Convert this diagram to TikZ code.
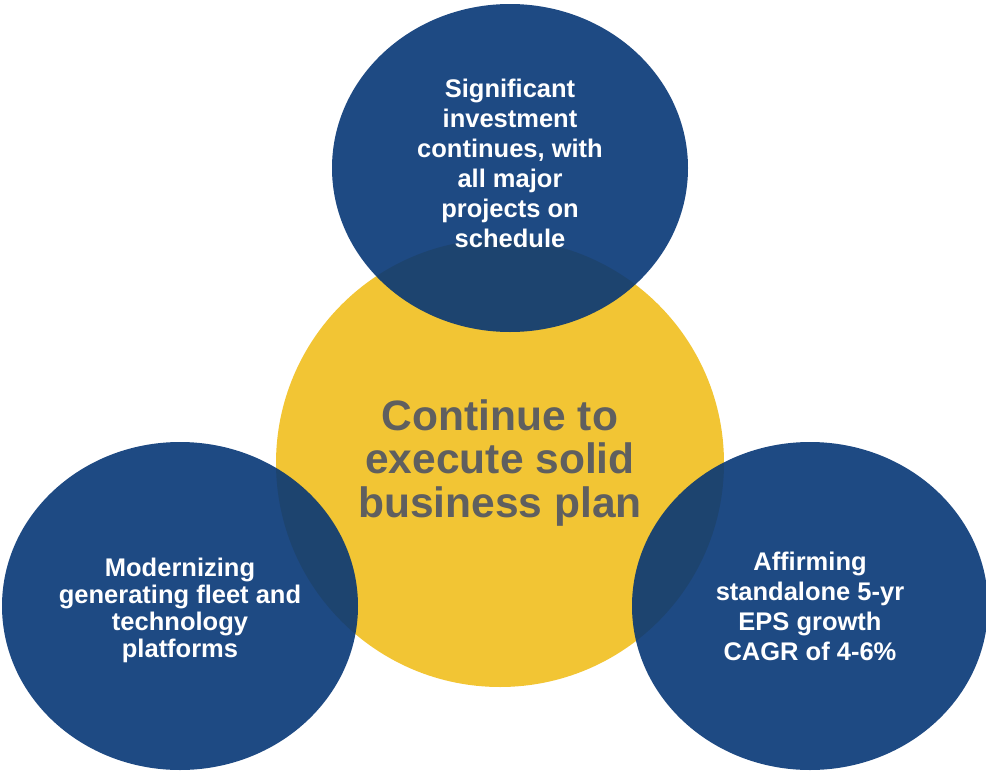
\documentclass[tikz,border=0pt]{standalone}
\usepackage{fontspec}
\setmainfont{Liberation Sans}
\usetikzlibrary{shapes.geometric,positioning}
\definecolor{planyellow}{RGB}{242,197,52}
\definecolor{pillarblue}{RGB}{6,54,118}
\definecolor{plangray}{RGB}{95,95,95}

\begin{document}
\begin{tikzpicture}[x = 1pt, y = -1pt,
  hub/.style = {circle, fill = planyellow, minimum size = 448pt, inner sep = 0pt, align = center, text = plangray, font = \bfseries\fontsize{42.5}{43.5}\selectfont},
  pillar/.style = {ellipse, fill = pillarblue, fill opacity = 0.9, minimum width = 356pt, minimum height = 328pt, inner sep = 0pt},
  pillartext/.style = {align = center, text = white, font = \bfseries\fontsize{25.5}{30}\selectfont}]
\useasboundingbox (0,0) rectangle (986,771);
% centre of the plan
\node[hub] (plan) at (500,463) {Continue to\\execute solid\\business plan};
% the three pillars round it
\node[pillar] (invest) at (510,168) {};
\node[pillar] (fleet) at (180,606) {};
\node[pillar] (eps) at (810,606) {};
% their texts
\node[pillartext] (investtext) at ([yshift = 5pt]invest.center) {Significant\\investment\\continues, with\\all major\\projects on\\schedule};
\node[pillartext, font = \bfseries\fontsize{25.5}{27}\selectfont] (fleettext) at ([yshift = -4pt]fleet.center) {Modernizing\\generating fleet and\\technology\\platforms};
\node[pillartext] (epstext) at (eps.center) {Affirming\\standalone 5-yr\\EPS growth\\CAGR of 4-6\%};
\end{tikzpicture}
\end{document}
